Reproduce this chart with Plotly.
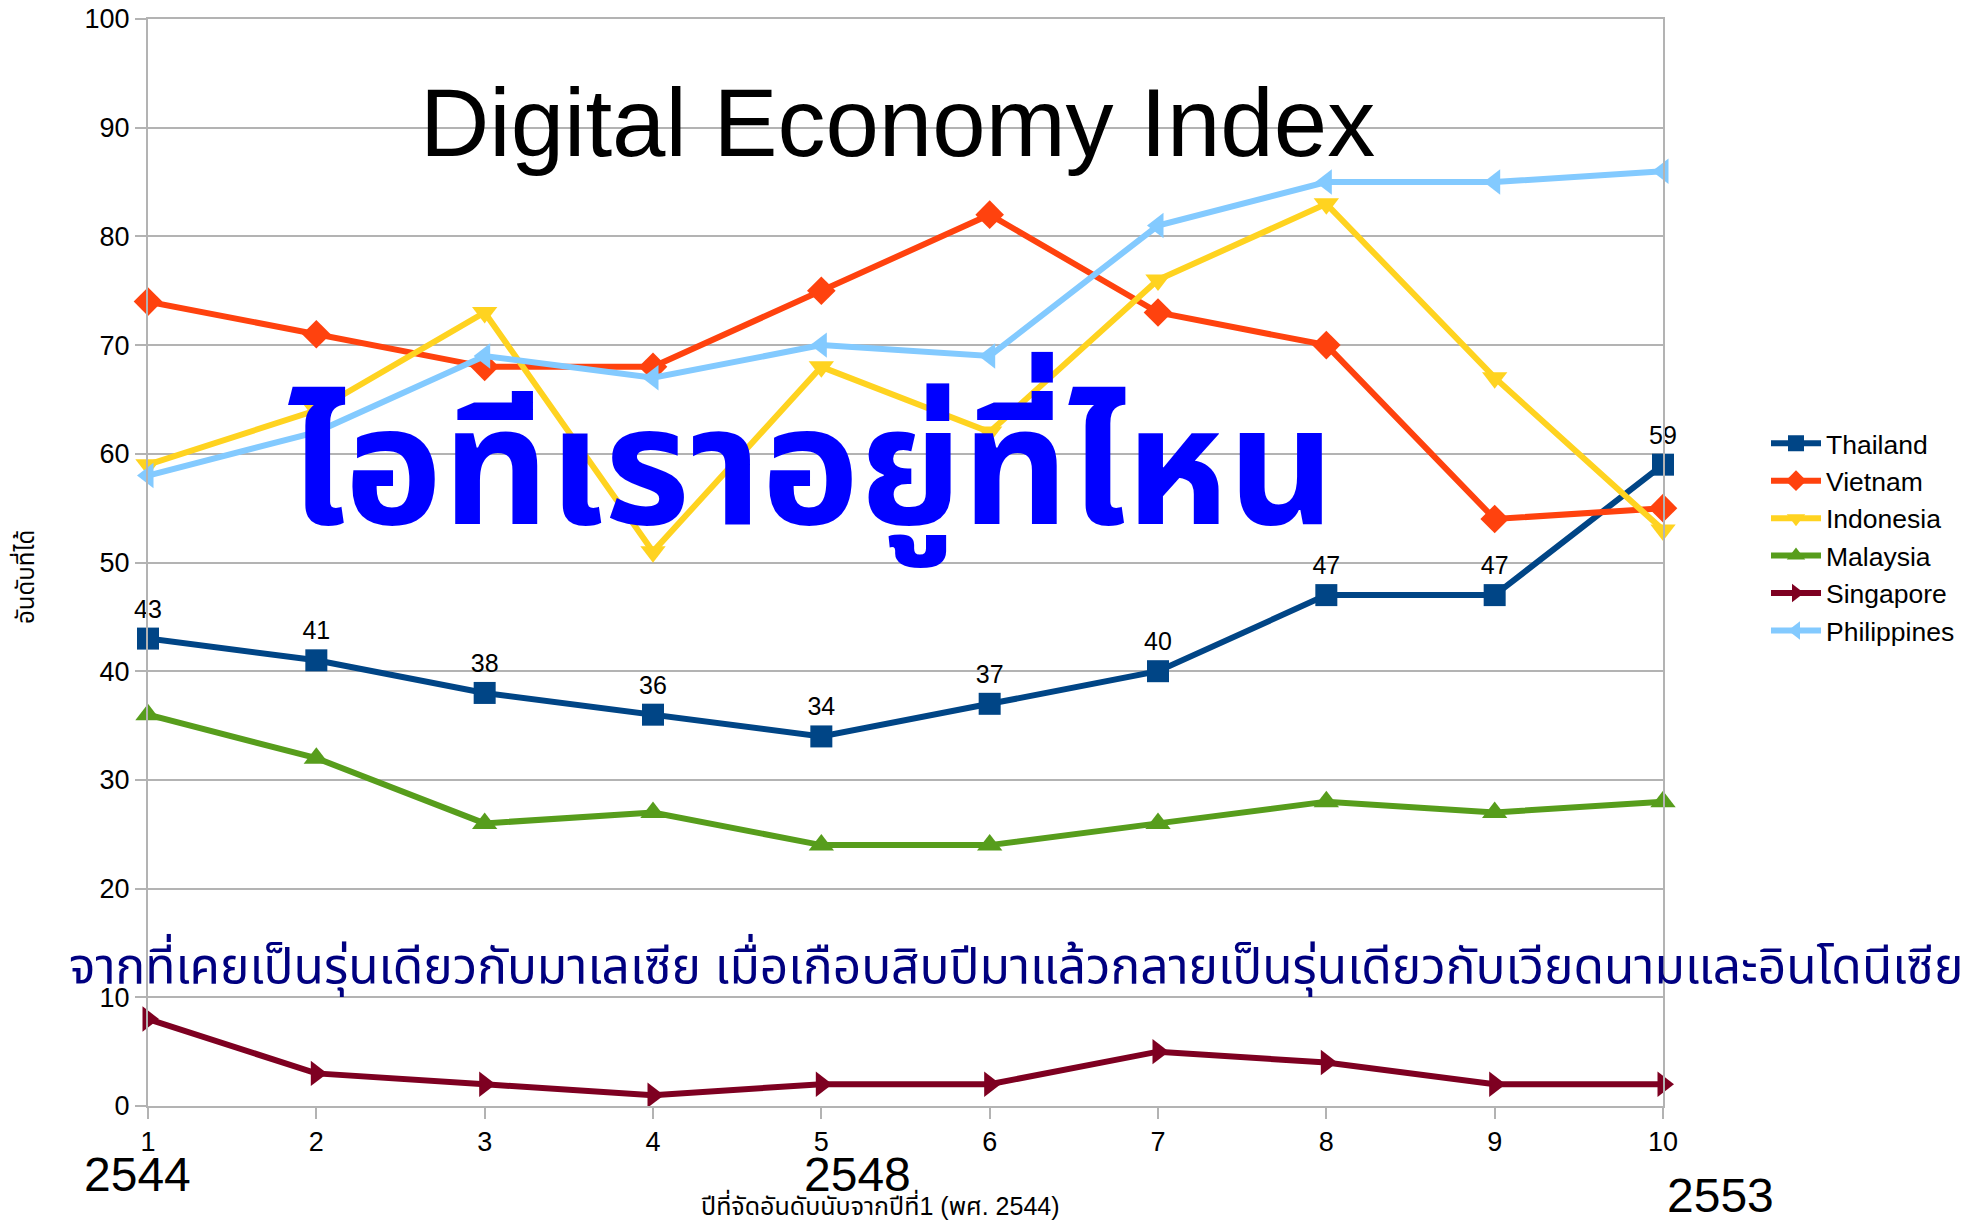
import plotly.graph_objects as go

# ranking data (year 1 = 2544)
years = [1, 2, 3, 4, 5, 6, 7, 8, 9, 10]
thailand = [43, 41, 38, 36, 34, 37, 40, 47, 47, 59]
vietnam = [74, 71, 68, 68, 75, 82, 73, 70, 54, 55]
indonesia = [59, 64, 73, 51, 68, 62, 76, 83, 67, 53]
malaysia = [36, 32, 26, 27, 24, 24, 26, 28, 27, 28]
singapore = [8, 3, 2, 1, 2, 2, 5, 4, 2, 2]
philippines = [58, 62, 69, 67, 70, 69, 81, 85, 85, 86]

series_names = ["Thailand", "Vietnam", "Indonesia", "Malaysia", "Singapore", "Philippines"]
y_ticks = [0, 10, 20, 30, 40, 50, 60, 70, 80, 90, 100]

title_text = "Digital Economy Index"
big_text = "ไอทีเราอยู่ที่ไหน"
sub_text = "จากที่เคยเป็นรุ่นเดียวกับมาเลเซีย เมื่อเกือบสิบปีมาแล้วกลายเป็นรุ่นเดียวกับเวียดนามและอินโดนีเซีย"
x_title = "ปีที่จัดอันดับนับจากปีที่1 (พศ. 2544)"
y_title = "อันดับที่ได้"
year_labels = ["2544", "2548", "2553"]

font = "Liberation Sans, Arial, Noto Sans Thai, Loma, Garuda, sans-serif"
grid = '#b3b3b3'

styles = [('#004586', 'square'),
          ('#ff420e', 'diamond'),
          ('#ffd320', 'triangle-down'),
          ('#579d1c', 'triangle-up'),
          ('#7e0021', 'triangle-right'),
          ('#83caff', 'triangle-left')]
values = [thailand, vietnam, indonesia, malaysia, singapore, philippines]

fig = go.Figure()
for name, vals, (color, symbol) in zip(series_names, values, styles):
    is_thai = name == "Thailand"
    fig.add_trace(go.Scatter(x = years,
                             y = vals,
                             name = name,
                             mode = "lines+markers+text" if is_thai else "lines+markers",
                             text = [str(v) for v in vals] if is_thai else None,
                             textposition = "top center",
                             textfont = dict(size = 25, color = 'black', family = font),
                             cliponaxis = False,
                             line = dict(color = color, width = 6),
                             marker = dict(color = color, symbol = symbol, size = 22)))

# pixel -> paper helpers (plot area 148..1663 x 19..1106)
def px(x):
    return (x - 148) / 1515

def py(y):
    return (1106 - y) / 1087

annotations = [
    dict(text = title_text, x = px(897), y = py(123), font = dict(size = 96, color = 'black')),
    dict(text = "<b>" + big_text + "</b>", x = px(811), y = py(460), font = dict(size = 165, color = '#0000ff')),
    dict(text = sub_text, x = px(1016), y = py(965), font = dict(size = 49.6, color = '#000080')),
    dict(text = year_labels[0], x = px(137), y = py(1174), font = dict(size = 48, color = 'black')),
    dict(text = year_labels[1], x = px(857), y = py(1174), font = dict(size = 48, color = 'black')),
    dict(text = year_labels[2], x = px(1720), y = py(1195), font = dict(size = 48, color = 'black')),
    dict(text = x_title, x = px(880), y = py(1204), font = dict(size = 25, color = 'black')),
    dict(text = y_title, x = px(24), y = py(577), textangle = -90, font = dict(size = 24, color = 'black')),
]
for a in annotations:
    a.update(xref = 'paper', yref = 'paper', showarrow = False,
             xanchor = 'center', yanchor = 'middle')
    a['font']['family'] = font

fig.update_layout(width = 1986,
                  height = 1220,
                  margin = dict(l = 148, r = 323, t = 19, b = 114),
                  plot_bgcolor = 'white',
                  paper_bgcolor = 'white',
                  font = dict(family = font, color = 'black'),
                  showlegend = True,
                  legend = dict(x = px(1766), y = py(537),
                                xanchor = 'left', yanchor = 'middle',
                                font = dict(size = 26.5, color = 'black'),
                                itemwidth = 50),
                  annotations = annotations)

fig.update_xaxes(range = [1, 10],
                 tickvals = years,
                 showgrid = False,
                 showline = True,
                 linecolor = grid,
                 linewidth = 2,
                 mirror = True,
                 ticks = 'outside',
                 ticklen = 11,
                 tickcolor = grid,
                 tickwidth = 2,
                 tickfont = dict(size = 27),
                 ticklabeloverflow = 'allow',
                 zeroline = False,
                 automargin = False)
fig.update_yaxes(range = [0, 100],
                 tickvals = y_ticks,
                 showgrid = True,
                 gridcolor = grid,
                 gridwidth = 2,
                 showline = True,
                 linecolor = grid,
                 linewidth = 2,
                 mirror = True,
                 ticks = 'outside',
                 ticklen = 11,
                 tickcolor = grid,
                 tickwidth = 2,
                 tickfont = dict(size = 27),
                 ticklabeloverflow = 'allow',
                 zeroline = False,
                 automargin = False)

# drop the default body margin so the figure fills the window exactly
fig.write_html("out.html",
               config = dict(displayModeBar = False),
               post_script = "document.body.style.margin = '0';")
